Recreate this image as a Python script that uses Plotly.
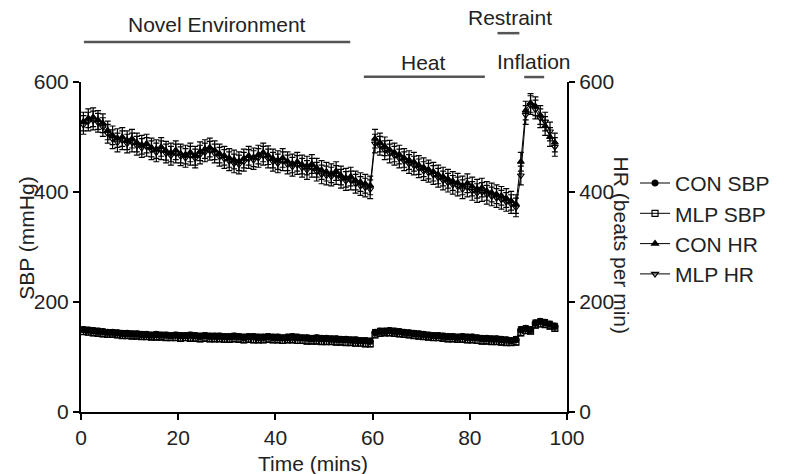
import plotly.graph_objects as go

# Time points (mins)
time_mins = [i + 0.5 for i in range(98)]

con_sbp = [150,149,148,147,146,145,145,144,143,143,
           142,142,141,141,140,141,140,140,139,140,
           139,139,140,139,138,139,138,138,138,137,
           137,138,137,136,137,137,136,136,137,136,
           136,135,136,137,136,135,135,134,135,134,
           134,133,133,132,132,131,131,130,130,129,
           145,147,147,148,147,146,145,144,143,142,
           141,140,139,139,138,137,137,136,137,136,
           136,135,134,134,133,133,132,131,130,132,
           150,152,150,162,165,163,160,156]

mlp_sbp = [146,145,144,143,142,141,141,140,139,139,
           138,138,137,137,136,136,136,135,135,135,
           134,135,134,134,133,134,133,133,133,132,
           132,133,132,131,132,131,131,131,132,131,
           131,130,131,131,130,130,129,129,129,128,
           128,128,127,127,126,126,125,125,124,124,
           140,143,144,144,143,142,141,140,139,138,
           137,136,135,135,134,133,133,132,132,131,
           131,130,129,129,128,128,127,126,126,127,
           144,148,147,158,160,159,156,152]

con_hr = [528,534,536,531,525,512,503,498,500,494,
          497,490,486,488,481,478,482,475,472,476,
          470,468,472,466,474,478,481,476,470,466,
          462,459,456,461,466,463,468,472,467,461,
          458,462,456,452,455,450,448,451,444,440,
          437,434,438,430,426,428,421,418,415,412,
          497,490,483,477,472,468,462,458,455,449,
          445,441,437,432,428,424,420,417,412,416,
          410,406,408,402,399,396,393,389,384,378,
          455,548,562,556,540,520,500,490]

mlp_hr = [522,528,530,526,518,506,496,490,494,488,
          490,484,480,482,476,472,476,470,466,470,
          465,462,466,461,468,472,475,470,464,460,
          456,452,450,455,460,458,462,466,461,455,
          452,456,450,446,449,444,440,444,437,432,
          430,428,431,424,420,421,415,411,408,405,
          488,484,476,470,466,461,456,451,448,443,
          438,435,431,426,421,417,413,410,405,408,
          402,398,400,395,392,389,386,382,378,372,
          430,540,558,550,534,528,510,482]

sbp_err = 5
hr_err = 17

x_ticks = [0, 20, 40, 60, 80, 100]
y_ticks = [0, 200, 400, 600]

FONT = "Liberation Sans, Arial, sans-serif"
TXT = "#222222"
FS = 21

def trace(name, y, symbol, err, axis):
    return go.Scatter(
        x=time_mins, y=y, name=name, mode="lines+markers", yaxis=axis,
        line=dict(color="black", width=1),
        marker=dict(symbol=symbol, size=6, color="black",
                    line=dict(color="black", width=1.2)),
        error_y=dict(type="constant", value=err, color="black",
                     thickness=1.2, width=3),
    )

fig = go.Figure()
fig.add_trace(trace("CON SBP", con_sbp, "circle", sbp_err, "y"))
fig.add_trace(trace("MLP SBP", mlp_sbp, "square-open", sbp_err, "y"))
fig.add_trace(trace("CON HR", con_hr, "triangle-up", hr_err, "y2"))
fig.add_trace(trace("MLP HR", mlp_hr, "triangle-down-open", hr_err, "y2"))

axis_common = dict(showline=True, linecolor="black", linewidth=2,
                   ticks="outside", ticklen=6, tickwidth=2, tickcolor="black",
                   showgrid=False, zeroline=False,
                   tickfont=dict(family=FONT, size=FS, color=TXT))

fig.update_layout(
    width=787, height=474,
    margin=dict(l=81, r=215, t=82, b=62),
    paper_bgcolor="white", plot_bgcolor="white",
    font=dict(family=FONT, size=FS, color=TXT),
    xaxis=dict(range=[0, 100], tickvals=x_ticks, **axis_common),
    yaxis=dict(range=[0, 600], tickvals=y_ticks, **axis_common),
    yaxis2=dict(range=[0, 600], tickvals=y_ticks, overlaying="y",
                side="right", **axis_common),
    showlegend=True,
    legend=dict(x=1.14, y=0.755, xanchor="left", yanchor="top",
                font=dict(family=FONT, size=FS, color=TXT),
                bgcolor="rgba(0,0,0,0)", itemwidth=30, tracegroupgap=0),
)

# Phase bars
bars = [(0.6, 55.4, 1.121), (58.2, 83.1, 1.016), (85.7, 90.2, 1.148), (91.2, 95.3, 1.015)]
for x0, x1, yy in bars:
    fig.add_shape(type="line", xref="x", yref="paper", x0=x0, x1=x1, y0=yy, y1=yy,
                  line=dict(color="#555555", width=2.5))

labels = [("Novel Environment", 27.9, 1.173), ("Heat", 70.5, 1.058),
          ("Restraint", 88.2, 1.194), ("Inflation", 93.3, 1.061)]
for txt, xx, yy in labels:
    fig.add_annotation(text=txt, xref="x", yref="paper", x=xx, y=yy,
                       showarrow=False, xanchor="center", yanchor="middle",
                       font=dict(family=FONT, size=FS, color=TXT))

fig.add_annotation(text="SBP (mmHg)", xref="paper", yref="paper", x=-0.112, y=0.527,
                   textangle=-90, showarrow=False, xanchor="center", yanchor="middle",
                   font=dict(family=FONT, size=FS, color=TXT))
fig.add_annotation(text="HR (beats per min)", xref="paper", yref="paper", x=1.114, y=0.506,
                   textangle=90, showarrow=False, xanchor="center", yanchor="middle",
                   font=dict(family=FONT, size=FS, color=TXT))
fig.add_annotation(text="Time (mins)", xref="paper", yref="paper", x=0.477, y=-0.155,
                   showarrow=False, xanchor="center", yanchor="middle",
                   font=dict(family=FONT, size=FS, color=TXT))

fig.write_html("out.html", config={"displayModeBar": False},
               post_script="document.body.style.margin='0';document.body.style.overflow='hidden';")
